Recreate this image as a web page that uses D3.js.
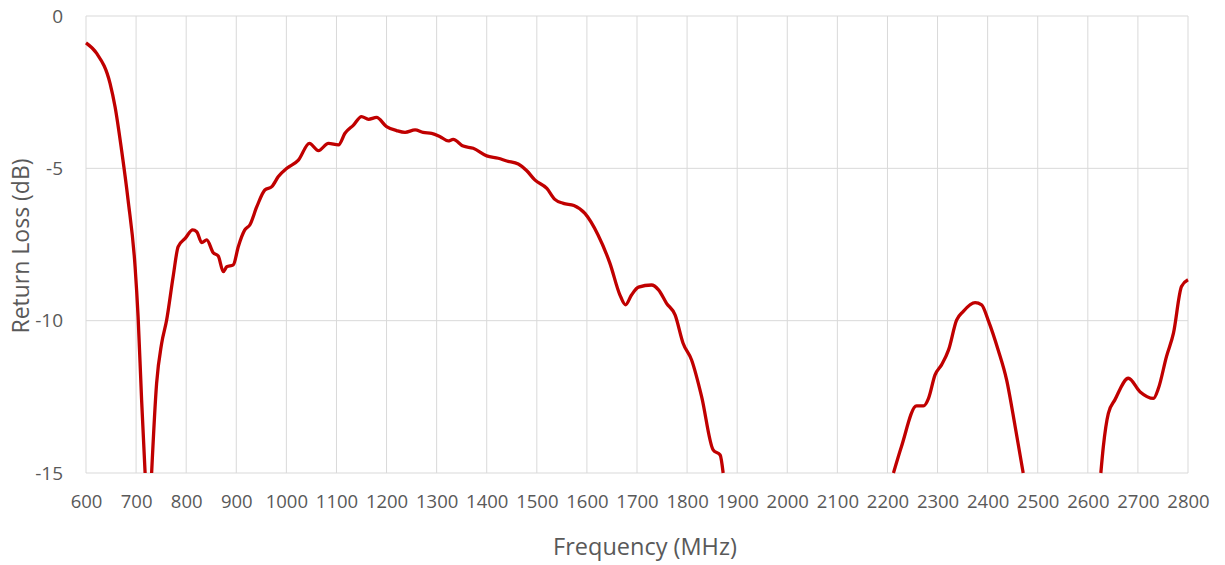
<!DOCTYPE html>
<html>
<head>
<meta charset="utf-8">
<script src="https://cdn.jsdelivr.net/npm/d3@7"></script>
<style>
  html, body { margin: 0; padding: 0; background: #fff; }
  svg { display: block; font-family: "Open Sans", "Liberation Sans", sans-serif; }
</style>
</head>
<body>
<div id="chart"></div>
<script>
// Return loss vs frequency (null = curve is below the -15 dB floor)
const freqMHz = [
  600, 621, 648, 658, 671, 684, 698, 704, 711, 718, 725,
  731, 741, 751, 761, 774, 784, 798, 813, 821, 831, 841, 854, 864, 874, 881, 894,
  904, 917, 927, 941, 957, 971, 984, 1001, 1024, 1046, 1064, 1084, 1104, 1117, 1134,
  1150, 1164, 1180, 1200, 1220, 1237, 1257, 1273, 1290, 1307, 1323, 1333, 1353, 1373,
  1400, 1423, 1440, 1463, 1480, 1496, 1520, 1536, 1553, 1574, 1596, 1622, 1646, 1666,
  1677, 1689, 1703, 1729, 1743, 1759, 1776, 1792, 1809, 1829, 1852, 1866, 1872, 2000,
  2212, 2228, 2258, 2272, 2282, 2295, 2308, 2322, 2338, 2351, 2375, 2388, 2401, 2421,
  2438, 2455, 2471, 2550,
  2626, 2631, 2641, 2654, 2681, 2704, 2731, 2741, 2757, 2771, 2787, 2800
];
const returnLossDb = [
  -0.88, -1.22, -2.21, -2.98, -4.40, -6.04, -8.23, -9.87, -12.6, -15.0, null,
  -15.0, -12.05, -10.75, -9.98, -8.55, -7.57, -7.30, -7.02, -7.08, -7.44, -7.35, -7.77, -7.88, -8.39, -8.23, -8.17,
  -7.57, -7.02, -6.86, -6.26, -5.71, -5.60, -5.27, -5.00, -4.73, -4.18, -4.42, -4.18, -4.23, -3.85, -3.58,
  -3.30, -3.39, -3.33, -3.63, -3.76, -3.82, -3.74, -3.82, -3.85, -3.96, -4.10, -4.05, -4.27, -4.34,
  -4.59, -4.67, -4.76, -4.86, -5.08, -5.38, -5.66, -6.02, -6.15, -6.22, -6.48, -7.18, -8.12, -9.16,
  -9.48, -9.16, -8.90, -8.83, -8.99, -9.43, -9.81, -10.74, -11.29, -12.49, -14.24, -14.41, -15.0, null,
  -15.0, -14.13, -12.80, -12.80, -12.55, -11.78, -11.45, -10.96, -9.98, -9.70, -9.41, -9.48, -9.98, -10.96,
  -11.95, -13.48, -15.0, null,
  -15.0, -14.13, -13.04, -12.60, -11.89, -12.33, -12.55, -12.22, -11.18, -10.41, -8.88, -8.66
];
const xTicks = d3.range(600, 2801, 100);
const yTicks = [0, -5, -10, -15];

const width = 1225, height = 565;
const margin = { top: 16, right: 37, bottom: 92, left: 86 };

const svg = d3.select("#chart").append("svg")
  .attr("width", width)
  .attr("height", height);

const x = d3.scaleLinear().domain([600, 2800]).range([margin.left, width - margin.right]);
const y = d3.scaleLinear().domain([-15, 0]).range([height - margin.bottom, margin.top]);

const gridColor = "#d9d9d9";
const labelColor = "#595959";

// vertical gridlines
svg.append("g")
  .selectAll("line")
  .data(xTicks)
  .join("line")
  .attr("x1", d => x(d)).attr("x2", d => x(d))
  .attr("y1", y(0)).attr("y2", y(-15))
  .attr("stroke", gridColor)
  .attr("stroke-width", 1);

// horizontal gridlines
svg.append("g")
  .selectAll("line")
  .data(yTicks)
  .join("line")
  .attr("x1", x(600)).attr("x2", x(2800))
  .attr("y1", d => y(d)).attr("y2", d => y(d))
  .attr("stroke", gridColor)
  .attr("stroke-width", 1);

// plain hyphen minus, like the original
const fmt = d => String(d);

// x axis labels
const xAxis = svg.append("g")
  .attr("transform", `translate(0,${y(-15)})`)
  .call(d3.axisBottom(x).tickValues(xTicks).tickSize(0).tickPadding(22).tickFormat(fmt));
xAxis.select(".domain").remove();
xAxis.selectAll("text")
  .attr("fill", labelColor)
  .attr("font-size", "18.5px")
  .attr("font-family", "'Open Sans', sans-serif");

// y axis labels
const yAxis = svg.append("g")
  .attr("transform", `translate(${x(600)},0)`)
  .call(d3.axisLeft(y).tickValues(yTicks).tickSize(0).tickPadding(23).tickFormat(fmt));
yAxis.select(".domain").remove();
yAxis.selectAll("text")
  .attr("fill", labelColor)
  .attr("font-size", "19px")
  .attr("font-family", "'Open Sans', sans-serif");

// axis titles
svg.append("text")
  .attr("x", 645)
  .attr("y", 555)
  .attr("text-anchor", "middle")
  .attr("fill", labelColor)
  .attr("font-size", "23.5px")
  .text("Frequency (MHz)");

svg.append("text")
  .attr("transform", `translate(29,246) rotate(-90)`)
  .attr("text-anchor", "middle")
  .attr("fill", labelColor)
  .attr("font-size", "23px")
  .text("Return Loss (dB)");

// the curve
const points = freqMHz.map((f, i) => ({ f, v: returnLossDb[i] }));
const line = d3.line()
  .defined(d => d.v !== null)
  .x(d => x(d.f))
  .y(d => y(d.v))
  .curve(d3.curveMonotoneX);

svg.append("path")
  .datum(points)
  .attr("d", line)
  .attr("fill", "none")
  .attr("stroke", "#c00000")
  .attr("stroke-width", 3.3)
  .attr("stroke-linejoin", "round");
</script>
</body>
</html>
